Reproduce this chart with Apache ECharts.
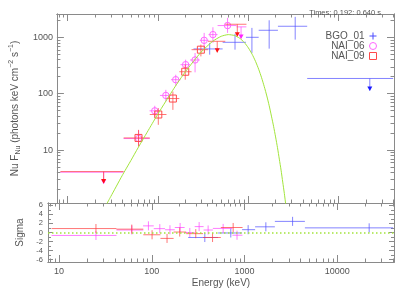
<!DOCTYPE html>
<html><head><meta charset="utf-8">
<script src="https://cdn.jsdelivr.net/npm/echarts@6/dist/echarts.min.js"></script>
<style>html,body{margin:0;padding:0;background:#fff}#c{width:407px;height:291px}</style>
</head><body><div id="c"></div>
<script>
// ---------------- data ----------------
const xTickLabels = [10, 100, 1000, 10000];
const yTickLabels = [10, 100, 1000];
const sigmaTickLabels = [-6, -4, -2, 0, 2, 4, 6];
const sigmaMinorTicks = [-5, -3, -1, 1, 3, 5];
const timeText = 'Times: 0.192: 0.640 s';
const detectorNames = ['BGO_01', 'NAI_06', 'NAI_09'];

// points: [E, Elo, Ehi, F, Flo, Fhi]
const bgo01Points = [
  [373, 247, 519, 622, 492, 795],
  [711, 519, 940, 815, 604, 1150],
  [1094, 940, 1300, 1000, 527, 1468],
  [1698, 1300, 2124, 1332, 629, 2005],
  [3297, 2124, 4477, 1570, 910, 2306]
];
// upper limits: [Elo, Ehi, F, Earrow, Ftip]
const bgo01Limits = [[4477, 40000, 186, 22080, 114]];

const nai06Points = [
  [61, 41.6, 81, 16.0, 11.8, 22.3],
  [92, 80.5, 105, 49.6, 39, 61],
  [122, 105, 139, 93, 73, 117],
  [157, 139, 177, 177, 138, 217],
  [202, 177, 226, 327, 252, 401],
  [257, 226, 290, 396, 239, 527],
  [324, 290, 362, 884, 647, 1197],
  [405, 362, 456, 1116, 795, 1507],
  [588, 456, 740, 1616, 1198, 2213]
];
const nai06Limits = [
  [8.3, 41.6, 4.05, 25, 2.55],
  [740, 950, 1531, 830, 950]
];

const nai09Points = [
  [60.8, 41.6, 81, 16.4, 11.5, 22.8],
  [100.7, 81, 124, 42.7, 28, 55.5],
  [146, 124, 172, 82, 51.6, 109],
  [200, 172, 235, 245, 177, 327],
  [298, 235, 357, 603, 459, 741]
];
const nai09Limits = [
  [8.3, 41.6, 4.15, 25, 2.6],
  [357, 555, 849, 452, 541],
  [555, 952, 1703, 754, 1042]
];

// residuals: [E, Elo, Ehi, sigma]
const bgo01Resid = [
  [373, 247, 519, -1.1], [711, 519, 940, -0.1], [1094, 940, 1300, 0.62],
  [1698, 1300, 2124, 1.25], [3297, 2124, 4477, 2.45], [22080, 4477, 40000, 1.02]
];
const nai06Resid = [
  [25, 8.3, 41.6, -0.65], [61, 41.6, 81, 0.55], [92, 80.5, 105, 1.46],
  [122, 105, 139, 0.85], [157, 139, 177, 0.6], [202, 177, 226, 1.1],
  [257, 226, 290, 0.0], [324, 290, 362, 1.3], [405, 362, 456, 0.55],
  [588, 456, 740, 0.9], [830, 740, 950, -0.6]
];
const nai09Resid = [
  [25, 8.3, 41.6, 0.87], [60.8, 41.6, 81, 0.74], [100.7, 81, 124, -0.5],
  [146, 124, 172, -1.3], [200, 172, 235, 0.1], [298, 235, 357, -0.25],
  [452, 357, 555, -1.1], [754, 555, 952, 1.1]
];

// model curve
const modelEnergy = [27, 30, 40, 50, 60, 80, 100, 150, 200, 300, 400, 500, 600, 700, 800, 900, 1000, 1100, 1200, 1300, 1400, 1500, 1600, 1700, 1800, 1900, 2000, 2100, 2200, 2300, 2400, 2500, 2700];
const modelFlux   = [1.1, 1.5, 3.5, 6.5, 10.9, 24, 44, 124, 243, 547, 843, 1042, 1116, 1077, 964, 812, 649, 501, 374, 271, 192, 133, 91, 61, 40, 26.4, 17.1, 11, 6.9, 4.4, 2.7, 1.7, 0.64];

// ---------------- chart ----------------
const X_MIN = 7.6, X_MAX = 40900, Y_MIN = 1.15, Y_MAX = 2590, S_MIN = -6.5, S_MAX = 6.5;
const FONT = '"Liberation Sans", Arial, sans-serif';
const AX = '#8a8a8a', TXT = '#555';
const BLUE_L = 'rgba(80,80,255,0.7)', BLUE_H = '#1a1aff';
const MAG_L = 'rgba(255,70,255,0.7)', MAG_M = '#ff66ff', MAG_H = '#ff22ff';
const RED_L = 'rgba(255,60,60,0.7)', RED_M = '#ff4a4a', RED_H = '#ff1010';
const GREEN = '#a2e43c';

function logMinor(lo, hi) {
  const v = [];
  for (let d = 1; d <= 100000; d *= 10) for (let m = 2; m <= 9; m++) { const x = m * d; if (x > lo && x < hi) v.push(x); }
  return v;
}
const xMinor = logMinor(X_MIN, X_MAX);
const yMinor = logMinor(Y_MIN, Y_MAX);

function mkAxis(kind, type, grid, pos, min, max, vals, len, labelOpt, extra) {
  return Object.assign({
    type: type, gridIndex: grid, position: pos, min: min, max: max,
    axisLine: { show: true, onZero: false, lineStyle: { color: AX, width: 1 } },
    axisTick: { show: true, inside: true, length: len, customValues: vals, lineStyle: { color: AX, width: 1 } },
    axisLabel: labelOpt ? Object.assign({ show: true, customValues: vals, color: TXT, fontFamily: FONT }, labelOpt) : { show: false },
    splitLine: { show: false }, minorTick: { show: false }, axisPointer: { show: false }
  }, type === 'log' ? { logBase: 10 } : {}, extra || {});
}
const plain = v => String(Math.round(v));

const xAxes = [
  mkAxis('x', 'log', 0, 'bottom', X_MIN, X_MAX, xTickLabels, 7),
  mkAxis('x', 'log', 0, 'bottom', X_MIN, X_MAX, xMinor, 3.5),
  mkAxis('x', 'log', 0, 'top', X_MIN, X_MAX, xTickLabels, 7),
  mkAxis('x', 'log', 0, 'top', X_MIN, X_MAX, xMinor, 3.5),
  mkAxis('x', 'log', 1, 'bottom', X_MIN, X_MAX, xTickLabels, 7,
    { formatter: plain, fontSize: 9, margin: 5 },
    { name: 'Energy (keV)', nameLocation: 'middle', nameGap: 16, nameTextStyle: { color: TXT, fontFamily: FONT, fontSize: 10 } }),
  mkAxis('x', 'log', 1, 'bottom', X_MIN, X_MAX, xMinor, 3.5),
  mkAxis('x', 'log', 1, 'top', X_MIN, X_MAX, xTickLabels, 7),
  mkAxis('x', 'log', 1, 'top', X_MIN, X_MAX, xMinor, 3.5)
];
const yAxes = [
  mkAxis('y', 'log', 0, 'left', Y_MIN, Y_MAX, yTickLabels, 7,
    { formatter: plain, fontSize: 9, margin: 4 },
    { name: '{a|Nu F}{s|Nu}{a| (photons keV cm}{p|\u22122}{a| s}{p|\u22121}{a|)}', nameLocation: 'middle', nameGap: 25,
      nameTextStyle: { color: TXT, fontFamily: FONT, fontSize: 10,
        rich: { a: { fontSize: 10, color: TXT, fontFamily: FONT, lineHeight: 14 },
                s: { fontSize: 7, color: TXT, fontFamily: FONT, lineHeight: 8, verticalAlign: 'bottom' },
                p: { fontSize: 7, color: TXT, fontFamily: FONT, lineHeight: 8, verticalAlign: 'top' } } } }),
  mkAxis('y', 'log', 0, 'left', Y_MIN, Y_MAX, yMinor, 3.5),
  mkAxis('y', 'log', 0, 'right', Y_MIN, Y_MAX, yTickLabels, 7),
  mkAxis('y', 'log', 0, 'right', Y_MIN, Y_MAX, yMinor, 3.5),
  mkAxis('y', 'value', 1, 'left', S_MIN, S_MAX, sigmaTickLabels, 5,
    { formatter: v => String(Math.round(v)), fontSize: 7.5, margin: 5 },
    { name: 'Sigma', nameLocation: 'middle', nameGap: 19, nameTextStyle: { color: TXT, fontFamily: FONT, fontSize: 10 } }),
  mkAxis('y', 'value', 1, 'left', S_MIN, S_MAX, sigmaMinorTicks, 3),
  mkAxis('y', 'value', 1, 'right', S_MIN, S_MAX, sigmaTickLabels, 5),
  mkAxis('y', 'value', 1, 'right', S_MIN, S_MAX, sigmaMinorTicks, 3)
];

function line(p1, p2, color) {
  return { type: 'line', shape: { x1: p1[0], y1: p1[1], x2: p2[0], y2: p2[1] }, style: { stroke: color, lineWidth: 1 } };
}
function pointSeries(name, rows, lineColor, markColor, marker) {
  return {
    type: 'custom', name: name, xAxisIndex: 0, yAxisIndex: 0, clip: true, silent: true,
    data: rows, encode: { x: 0, y: 3 }, itemStyle: { color: markColor },
    renderItem: function (params, api) {
      const E = api.value(0), lo = api.value(1), hi = api.value(2), F = api.value(3), flo = api.value(4), fhi = api.value(5);
      const c = api.coord([E, F]);
      const ch = [
        line(api.coord([lo, F]), api.coord([hi, F]), lineColor),
        line(api.coord([E, fhi]), api.coord([E, flo]), lineColor)
      ];
      if (marker === 'circle') ch.push({ type: 'circle', shape: { cx: c[0], cy: c[1], r: 3.2 }, style: { fill: 'none', stroke: markColor, lineWidth: 1 } });
      if (marker === 'square') ch.push({ type: 'rect', shape: { x: c[0] - 3.5, y: c[1] - 3.5, width: 7, height: 7 }, style: { fill: 'none', stroke: markColor, lineWidth: 1 } });
      return { type: 'group', children: ch };
    }
  };
}
function limitSeries(name, rows, lineColor, headColor) {
  return {
    type: 'custom', name: name, xAxisIndex: 0, yAxisIndex: 0, clip: true, silent: true,
    data: rows, encode: { x: 3, y: 2 }, itemStyle: { color: headColor },
    renderItem: function (params, api) {
      const lo = api.value(0), hi = api.value(1), F = api.value(2), Ea = api.value(3), Ft = api.value(4);
      const tip = api.coord([Ea, Ft]);
      return { type: 'group', children: [
        line(api.coord([lo, F]), api.coord([hi, F]), lineColor),
        line(api.coord([Ea, F]), tip, lineColor),
        { type: 'polygon', shape: { points: [[tip[0] - 2.5, tip[1] - 4], [tip[0] + 2.5, tip[1] - 4], [tip[0], tip[1] + 0.5]] }, style: { fill: headColor } }
      ] };
    }
  };
}
function residSeries(name, rows, lineColor, extra) {
  return Object.assign({
    type: 'custom', name: name, xAxisIndex: 4, yAxisIndex: 4, clip: true, silent: true,
    data: rows, encode: { x: 0, y: 3 },
    renderItem: function (params, api) {
      const E = api.value(0), lo = api.value(1), hi = api.value(2), s = api.value(3);
      return { type: 'group', children: [
        line(api.coord([lo, s]), api.coord([hi, s]), lineColor),
        line(api.coord([E, s + 1]), api.coord([E, s - 1]), lineColor)
      ] };
    }
  }, extra || {});
}

const chart = echarts.init(document.getElementById('c'), null, { renderer: 'canvas' });
chart.setOption({
  animation: false,
  backgroundColor: '#fff',
  textStyle: { fontFamily: FONT },
  title: { text: timeText, right: 21, top: 4, textStyle: { fontSize: 7.5, color: TXT, fontWeight: 'normal', fontFamily: FONT } },
  legend: {
    orient: 'vertical', right: 25, top: 26, align: 'right', itemWidth: 7, itemHeight: 7, itemGap: 0, selectedMode: false,
    textStyle: { color: TXT, fontSize: 10, fontFamily: FONT, lineHeight: 10 },
    data: [
      { name: detectorNames[0], icon: 'path://M5,0L5,10M0,5L10,5', itemStyle: { color: 'rgba(0,0,0,0)', borderColor: '#4a4aff', borderWidth: 1 } },
      { name: detectorNames[1], icon: 'circle', itemStyle: { color: 'rgba(0,0,0,0)', borderColor: MAG_M, borderWidth: 1 } },
      { name: detectorNames[2], icon: 'rect', itemStyle: { color: 'rgba(0,0,0,0)', borderColor: RED_M, borderWidth: 1 } }
    ]
  },
  grid: [
    { left: 48, right: 13, top: 14, height: 189 },
    { left: 48, right: 13, top: 203, height: 59 }
  ],
  xAxis: xAxes,
  yAxis: yAxes,
  series: [
    { type: 'line', name: 'model', xAxisIndex: 0, yAxisIndex: 0, data: modelEnergy.map((e, i) => [e, modelFlux[i]]),
      showSymbol: false, smooth: 0.2, clip: true, silent: true, lineStyle: { color: GREEN, width: 1 }, itemStyle: { color: GREEN } },
    pointSeries(detectorNames[0], bgo01Points, BLUE_L, BLUE_L, 'none'),
    limitSeries(detectorNames[0], bgo01Limits, BLUE_L, BLUE_H),
    pointSeries(detectorNames[1], nai06Points, MAG_L, MAG_M, 'circle'),
    limitSeries(detectorNames[1], nai06Limits, MAG_L, MAG_H),
    pointSeries(detectorNames[2], nai09Points, RED_L, RED_M, 'square'),
    limitSeries(detectorNames[2], nai09Limits, RED_L, RED_H),
    residSeries(detectorNames[0], bgo01Resid, BLUE_L, {
      markLine: { silent: true, symbol: ['none', 'none'], label: { show: false },
        lineStyle: { color: GREEN, type: [1.5, 2.5], width: 1.5 }, data: [{ yAxis: 0 }] } }),
    residSeries(detectorNames[1], nai06Resid, MAG_L),
    residSeries(detectorNames[2], nai09Resid, RED_L)
  ]
});
</script>
</body></html>
